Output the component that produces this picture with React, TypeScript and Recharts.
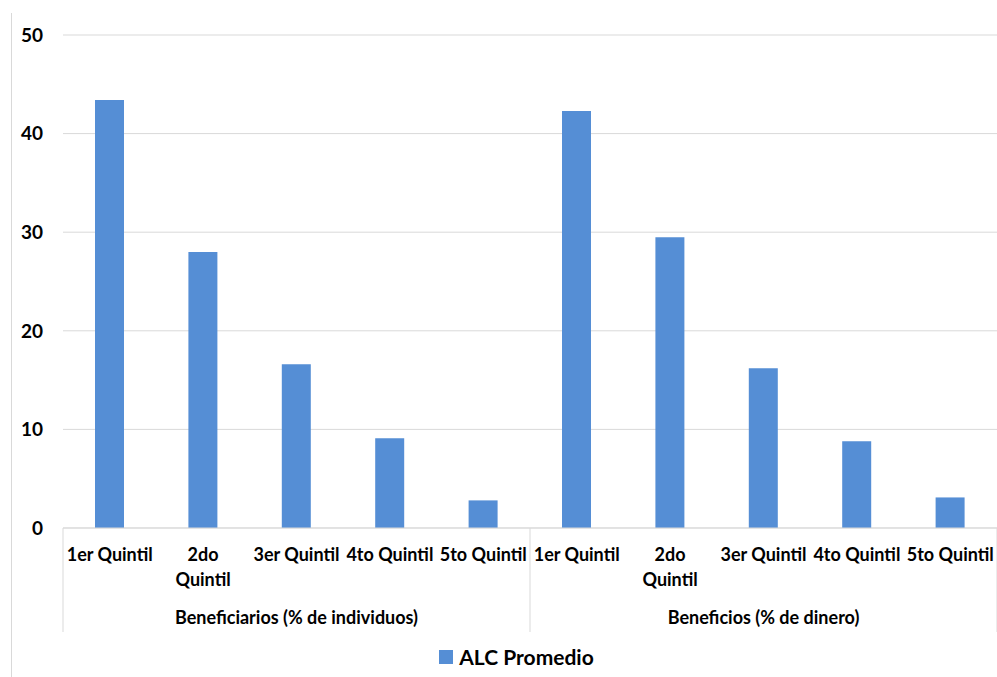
import React from "react";
import { BarChart, Bar, CartesianGrid, XAxis, YAxis, Legend } from "recharts";

// Datos
const grupos = ["Beneficiarios (% de individuos)", "Beneficios (% de dinero)"];
const quintiles = ["1er Quintil", "2do Quintil", "3er Quintil", "4to Quintil", "5to Quintil"];
const etiquetas = [["1er Quintil"], ["2do", "Quintil"], ["3er Quintil"], ["4to Quintil"], ["5to Quintil"]];
const beneficiarios = [43.4, 28.0, 16.6, 9.1, 2.8];
const beneficios = [42.3, 29.5, 16.2, 8.8, 3.1];
const yTicks = [0, 10, 20, 30, 40, 50];

const series = [beneficiarios, beneficios];
const data = grupos.flatMap((g, gi) =>
  quintiles.map((q, qi) => ({ key: `${gi}-${qi}`, grupo: g, quintil: q, value: series[gi][qi] }))
);

const FONT = "Lato, 'Liberation Sans', sans-serif";
const COLOR = "#558ed5";
const LINE = "#d9d9d9";

const CategoryTick = (props: any) => {
  const { x, y, index } = props;
  const step = 934 / data.length;
  const qi = index % quintiles.length;
  const lines = etiquetas[qi];
  const left = x - step / 2;
  const top = y - 8; // línea del eje
  return (
    <g>
      {lines.map((l, i) => (
        <text key={i} x={x} y={top + 33 + i * 25} textAnchor="middle" fontFamily={FONT} fontWeight={700} fontSize={18} fill="#000">
          {l}
        </text>
      ))}
      {qi === 0 && (
        <>
          <line x1={left} y1={top} x2={left} y2={top + 104} stroke={LINE} />
          <text x={left + (step * quintiles.length) / 2} y={top + 96} textAnchor="middle" fontFamily={FONT} fontWeight={700} fontSize={18} fill="#000">
            {grupos[Math.floor(index / quintiles.length)]}
          </text>
        </>
      )}
      {index === data.length - 1 && (
        <line x1={x + step / 2} y1={top} x2={x + step / 2} y2={top + 104} stroke={LINE} />
      )}
    </g>
  );
};

const LegendContent = () => (
  <div style={{ display: "flex", justifyContent: "center", alignItems: "center", fontFamily: FONT, fontWeight: 700, fontSize: 21, paddingLeft: 36, paddingTop: 12 }}>
    <span style={{ width: 14, height: 14, background: COLOR, display: "inline-block", marginRight: 6 }} />
    <span>ALC Promedio</span>
  </div>
);

export default function App() {
  return (
    <div style={{ position: "absolute", left: 0, top: 0, width: 997, height: 677, background: "#fff" }}>
      <div style={{ position: "absolute", left: 11, top: 13, width: 1, height: 664, background: LINE }} />
      <BarChart width={998} height={677} data={data} margin={{ top: 35, right: 1, left: 0, bottom: 5 }} barCategoryGap={0}>
        <CartesianGrid vertical={false} stroke={LINE} />
        <XAxis
          dataKey="key"
          interval={0}
          height={104}
          tickLine={false}
          axisLine={{ stroke: LINE }}
          tick={<CategoryTick />}
        />
        <YAxis
          domain={[0, 50]}
          ticks={yTicks}
          width={63}
          axisLine={false}
          tickLine={false}
          tickMargin={14}
          tick={{ fontFamily: FONT, fontWeight: 700, fontSize: 19, fill: "#000" }}
        />
        <Legend verticalAlign="bottom" height={40} content={<LegendContent />} />
        <Bar dataKey="value" name="ALC Promedio" fill={COLOR} barSize={29} isAnimationActive={false} />
      </BarChart>
    </div>
  );
}
